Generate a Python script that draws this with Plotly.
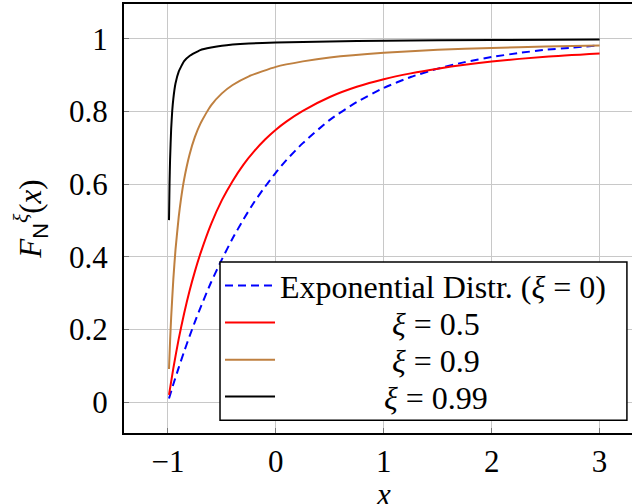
import plotly.graph_objects as go

# Values
x_exp = [-0.99, -0.95, -0.9, -0.85, -0.8, -0.75, -0.7, -0.6, -0.5, -0.4, -0.3, -0.2, -0.1, 0.0, 0.1, 0.25, 0.5, 0.75, 1.0, 1.25, 1.5, 1.75, 2.0, 2.25, 2.5, 2.75, 3.0]
y_exp = [0.010, 0.049, 0.095, 0.139, 0.181, 0.221, 0.259, 0.330, 0.393, 0.451, 0.503, 0.551, 0.593, 0.632, 0.667, 0.713, 0.777, 0.826, 0.865, 0.895, 0.918, 0.936, 0.950, 0.961, 0.970, 0.976, 0.982]

x_05 = [-0.99, -0.95, -0.9, -0.85, -0.8, -0.75, -0.7, -0.6, -0.5, -0.4, -0.3, -0.2, -0.1, 0.0, 0.1, 0.25, 0.5, 0.75, 1.0, 1.25, 1.5, 1.75, 2.0, 2.5, 3.0]
y_05 = [0.020, 0.093, 0.174, 0.244, 0.306, 0.360, 0.408, 0.490, 0.556, 0.609, 0.654, 0.691, 0.723, 0.750, 0.773, 0.802, 0.840, 0.868, 0.889, 0.905, 0.918, 0.929, 0.938, 0.951, 0.960]

x_09 = [-0.99, -0.98, -0.97, -0.95, -0.93, -0.9, -0.88, -0.85, -0.8, -0.75, -0.7, -0.6, -0.5, -0.4, -0.25, 0.0, 0.25, 0.5, 1.0, 1.5, 2.0, 2.5, 3.0]
y_09 = [0.091, 0.168, 0.233, 0.338, 0.419, 0.510, 0.557, 0.613, 0.681, 0.730, 0.766, 0.817, 0.850, 0.873, 0.897, 0.923, 0.938, 0.949, 0.962, 0.970, 0.975, 0.979, 0.982]

x_099 = [-0.99, -0.985, -0.98, -0.97, -0.96, -0.95, -0.93, -0.9, -0.85, -0.8, -0.7, -0.6, -0.5, -0.25, 0.0, 0.5, 1.0, 2.0, 3.0]
y_099 = [0.501, 0.601, 0.668, 0.752, 0.802, 0.835, 0.877, 0.910, 0.939, 0.953, 0.969, 0.976, 0.981, 0.987, 0.990, 0.993, 0.995, 0.997, 0.998]

series_names = ["Exponential Distr. (<i>ξ</i> = 0)", "<i>ξ</i> = 0.5", "<i>ξ</i> = 0.9", "<i>ξ</i> = 0.99"]

x_ticks = [-1, 0, 1, 2, 3]
x_tick_text = ["−1", "0", "1", "2", "3"]
y_ticks = [0, 0.2, 0.4, 0.6, 0.8, 1]
y_tick_text = ["0", "0.2", "0.4", "0.6", "0.8", "1"]

FONT = "Liberation Serif"
FS = 31
LFS = 32
pad14 = "\u00a0" * 14
pad13 = "\u00a0" * 13

fig = go.Figure()
fig.add_trace(go.Scatter(x=x_exp, y=y_exp, mode="lines", name=series_names[0], legend="legend",
                         line=dict(color="rgb(0,0,255)", width=2, dash="8px,5px", shape="spline", smoothing=0.6)))
fig.add_trace(go.Scatter(x=x_05, y=y_05, mode="lines", name=pad14 + series_names[1], legend="legend2",
                         line=dict(color="rgb(255,0,0)", width=2, shape="spline", smoothing=0.6)))
fig.add_trace(go.Scatter(x=x_09, y=y_09, mode="lines", name=pad14 + series_names[2], legend="legend3",
                         line=dict(color="rgb(191,128,64)", width=2, shape="spline", smoothing=0.5)))
fig.add_trace(go.Scatter(x=x_099, y=y_099, mode="lines", name=pad13 + series_names[3], legend="legend4",
                         line=dict(color="black", width=2, shape="spline", smoothing=0.4)))

def leg(y):
    return dict(x=0.189, y=y, xanchor="left", yanchor="middle",
                bgcolor="rgba(0,0,0,0)", borderwidth=0, itemwidth=50,
                font=dict(family=FONT, size=LFS, color="black"))

fig.update_layout(
    width=632, height=504,
    margin=dict(l=124, r=0, t=4, b=71),
    paper_bgcolor="white", plot_bgcolor="white",
    font=dict(family=FONT, size=FS, color="black"),
    showlegend=True,
    legend=leg(0.3434),
    legend2=leg(0.2571),
    legend3=leg(0.1702),
    legend4=leg(0.0846),
    shapes=[dict(type="rect", xref="paper", yref="paper", x0=0.189, x1=0.990, y0=0.030, y1=0.3986,
                 fillcolor="white", line=dict(color="black", width=1.5), layer="above")],
    annotations=[dict(text="<i>x</i>", xref="paper", yref="paper", x=0.51, y=-0.143,
                      xanchor="center", yanchor="middle", showarrow=False,
                      font=dict(family=FONT, size=FS, color="black"))],
)
fig.update_xaxes(range=[-1.407, 3.30], tickvals=x_ticks, ticktext=x_tick_text,
                 showgrid=True, gridcolor="rgb(200,200,200)", gridwidth=1,
                 showline=True, linecolor="black", linewidth=2, mirror=True,
                 ticks="inside", ticklen=5, tickcolor="rgb(120,120,120)",
                 zeroline=False, ticklabelstandoff=0, automargin=False)
fig.update_yaxes(range=[-0.085, 1.096], tickvals=y_ticks, ticktext=y_tick_text,
                 showgrid=True, gridcolor="rgb(200,200,200)", gridwidth=1,
                 showline=True, linecolor="black", linewidth=2, mirror=False,
                 ticks="inside", ticklen=5, tickcolor="rgb(120,120,120)",
                 zeroline=False, ticklabelstandoff=8,
                 title=dict(text="<i>F</i><sub><span style=\"font-family:'Liberation Sans'\">N</span></sub><sup><i>ξ</i></sup>(<i>x</i>)",
                            standoff=18, font=dict(size=FS)))

fig.write_html("out.html")
